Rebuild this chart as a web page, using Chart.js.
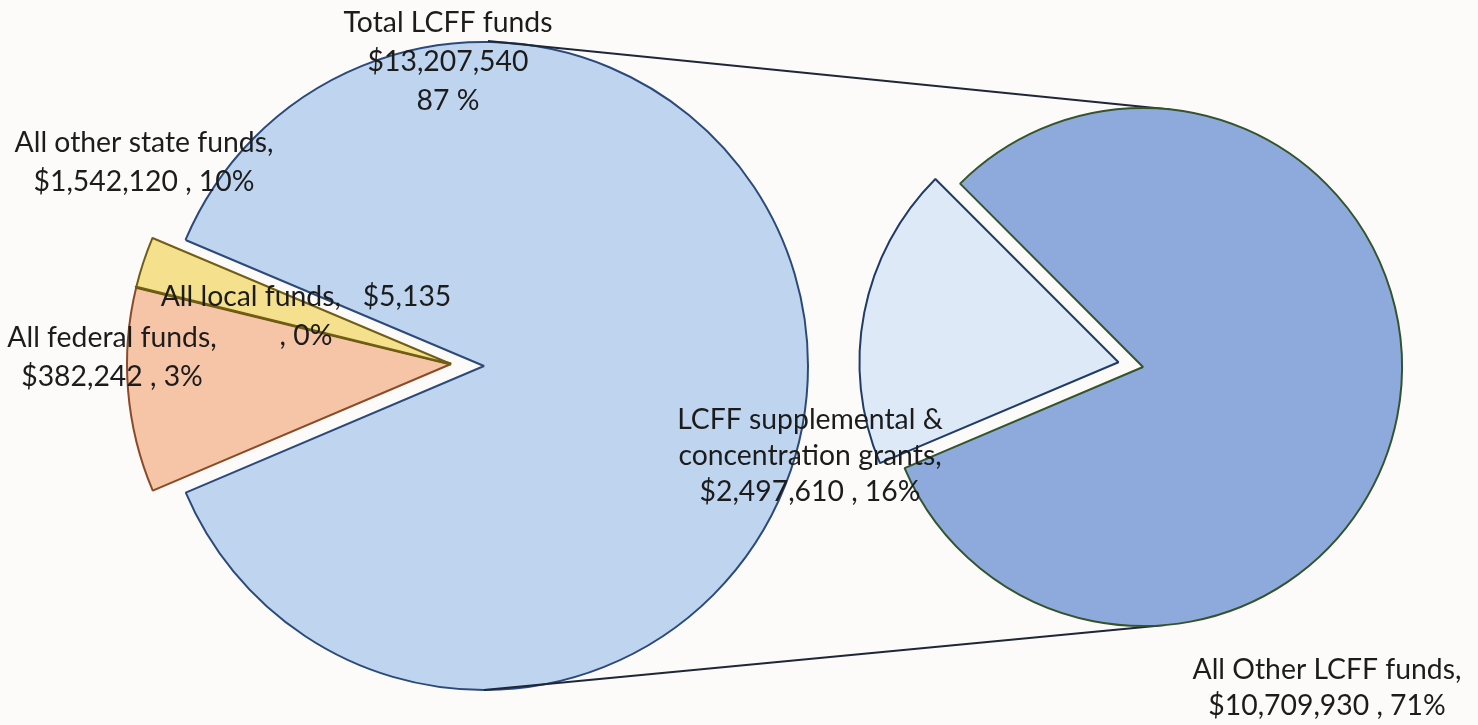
<!DOCTYPE html>
<html><head><meta charset="utf-8">
<script src="https://cdn.jsdelivr.net/npm/chart.js@4.4.0/dist/chart.umd.min.js"></script>
<style>
html,body{margin:0;padding:0;background:#fcfbf9;overflow:hidden}
#wrap{position:relative;width:1478px;height:725px}
canvas{position:absolute;left:0;top:0}
</style></head><body>
<div id="wrap"><canvas id="c0" width="1478" height="725"></canvas><canvas id="c1" width="1478" height="725"></canvas><canvas id="c2" width="1478" height="725"></canvas></div>
<script>
// ---- data ----
const categories = ['All other state funds', 'All local funds', 'All federal funds', 'Total LCFF funds'];
const values = [1542120, 5135, 382242, 13207540];
const subCategories = ['LCFF supplemental & concentration grants', 'All Other LCFF funds'];
const subValues = [2497610, 10709930];

// ---- styles ----
const mainColors = ['#f6c4a7', '#7d6a1c', '#f5e08e', '#bfd4ee'];
const mainBorders = ['#8a4b28', '#6b5712', '#6f5e14', '#2b4a7a'];
const mainBorderWidths = [2, 3, 2, 2];
const subColors = ['#dde9f7', '#8eaadc'];
const subBorders = ['#203c66', '#34542c'];
const subExplode = [25, 0];

const total = values.reduce((a, b) => a + b, 0);
const money = v => '$' + v.toLocaleString('en-US');
const pct = v => Math.round(v / total * 100);

// label layout (text content built from data)
const labelLines = [
  { lines: [categories[3], money(values[3]), pct(values[3]) + ' %'], x: 448, y: 23 },
  { lines: [categories[0] + ',', money(values[0]) + ' , ' + pct(values[0]) + '%'], x: 144, y: 143 },
  { lines: [categories[1] + ',   ' + money(values[1]), ', ' + pct(values[1]) + '%'], x: 306, y: 297 },
  { lines: [categories[2] + ',', money(values[2]) + ' , ' + pct(values[2]) + '%'], x: 112, y: 338 },
  { lines: ['LCFF supplemental &', 'concentration grants,', money(subValues[0]) + ' , ' + pct(subValues[0]) + '%'], x: 810, y: 420, lh: 36 },
  { lines: [subCategories[1] + ',', money(subValues[1]) + ' , ' + pct(subValues[1]) + '%'], x: 1327, y: 670, lh: 36 }
];

// Chart.js translates an arc by offset/4 and enlarges its radius; keep the radius equal to the pie's
const keepRadius = {
  id: 'keepRadius',
  afterDatasetsUpdate(chart) {
    const explode = chart.options.plugins.keepRadius.explode;
    chart.getDatasetMeta(0).data.forEach((arc, i) => {
      const off = explode[i] || 0;
      const fix = 1 - Math.sin(Math.min(Math.PI, arc.circumference || 0));
      arc.outerRadius = arc.outerRadius - off * fix;
    });
  }
};

const baseOpts = (radius, padding, explode) => ({
  responsive: false,
  animation: false,
  rotation: 247,
  radius: radius,
  layout: { padding: padding },
  plugins: { legend: { display: false }, tooltip: { enabled: false }, keepRadius: { explode: explode } }
});

const isLCFF = i => i === 3;
const clear = 'rgba(0,0,0,0)';

// the three non-LCFF slices, pulled out together to the left
new Chart(document.getElementById('c0'), {
  type: 'pie',
  data: { labels: categories, datasets: [{ data: values,
    backgroundColor: mainColors.map((c, i) => isLCFF(i) ? clear : c),
    borderColor: mainBorders.map((c, i) => isLCFF(i) ? clear : c),
    borderWidth: mainBorderWidths.map((w, i) => isLCFF(i) ? 0 : w) }] },
  options: baseOpts(324, { left: 0, right: 576, top: 3, bottom: 0 }, [])
});

// the LCFF slice
const left = new Chart(document.getElementById('c1'), {
  type: 'pie',
  data: { labels: categories, datasets: [{ data: values,
    backgroundColor: mainColors.map((c, i) => isLCFF(i) ? c : clear),
    borderColor: mainBorders.map((c, i) => isLCFF(i) ? c : clear),
    borderWidth: mainBorderWidths.map((w, i) => isLCFF(i) ? w : 0) }] },
  options: baseOpts(324, { left: 0, right: 510, top: 7, bottom: 0 }, [])
});

const connectAndLabel = {
  id: 'connectAndLabel',
  beforeDatasetsDraw(chart) {
    const ctx = chart.ctx;
    const a = left.getDatasetMeta(0).data[3];
    const b = chart.getDatasetMeta(0).data[1];
    const R = a.outerRadius, r = b.outerRadius;
    const t1 = 6 * Math.PI / 180, t2 = 5 * Math.PI / 180;
    ctx.save();
    ctx.strokeStyle = '#1e2638';
    ctx.lineWidth = 2;
    ctx.beginPath();
    ctx.moveTo(a.x + 4, a.y - R - 1);
    ctx.lineTo(b.x + r * Math.sin(t1), b.y - r * Math.cos(t1));
    ctx.moveTo(a.x, a.y + R);
    ctx.lineTo(b.x + r * Math.sin(t2), b.y + r * Math.cos(t2));
    ctx.stroke();
    ctx.restore();
  },
  afterDraw(chart) {
    const ctx = chart.ctx;
    ctx.save();
    ctx.font = '100px Lato';
    const w = ctx.measureText(subCategories[1] + ',').width;
    const fontSize = 269 / w * 100;
    ctx.font = fontSize.toFixed(2) + 'px Lato';
    ctx.fillStyle = '#1c1c1c';
    ctx.textAlign = 'center';
    ctx.textBaseline = 'middle';
    labelLines.forEach(l => {
      const lh = l.lh || 39;
      l.lines.forEach((s, i) => ctx.fillText(s, l.x, l.y + i * lh));
    });
    ctx.restore();
  }
};

new Chart(document.getElementById('c2'), {
  type: 'pie',
  data: { labels: subCategories, datasets: [{ data: subValues, backgroundColor: subColors, borderColor: subBorders, borderWidth: 2, offset: subExplode.map(v => v * 4) }] },
  options: baseOpts(259, { left: 808, right: 0, top: 9, bottom: 0 }, subExplode),
  plugins: [keepRadius, connectAndLabel]
});
</script>
</body></html>
